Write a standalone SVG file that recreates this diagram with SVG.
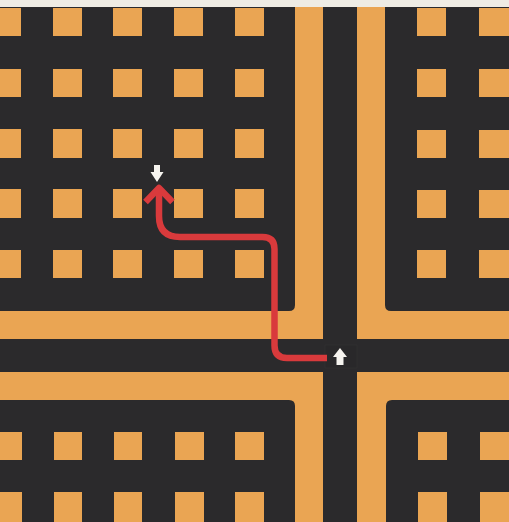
<svg xmlns="http://www.w3.org/2000/svg" width="509" height="522" viewBox="0 0 509 522">
  <defs>
    <style>
      .dark { fill: #2b2a2c; }
      .sq { fill: #eaa553; }
      .route { fill: none; stroke: #d93a3c; stroke-width: 6.5; stroke-linejoin: round; }
      .tag { fill: #f6f4ef; }
    </style>
  </defs>
  <rect x="0" y="0" width="509" height="522" fill="#eaa553"/>
  <rect x="0" y="0" width="509" height="7" fill="#efece4"/>

  <g id="blocks">
    <path class="dark" d="M0 7 H295 V305 Q295 311 289 311 H0 Z"/>
    <path class="dark" d="M509 7 H385 V305 Q385 311 391 311 H509 Z"/>
    <path class="dark" d="M0 522 H295 V406 Q295 400 289 400 H0 Z"/>
    <path class="dark" d="M509 522 H386 V406 Q386 400 392 400 H509 Z"/>
    <rect class="dark" x="323" y="7" width="34" height="515"/>
    <rect class="dark" x="0" y="339" width="509" height="33"/>
  </g>

  <g id="squares-top-left">
    <rect class="sq" x="-8" y="8" width="29" height="28"/><rect class="sq" x="53" y="8" width="29" height="28"/><rect class="sq" x="113" y="8" width="29" height="28"/><rect class="sq" x="174" y="8" width="29" height="28"/><rect class="sq" x="235" y="8" width="29" height="28"/>
    <rect class="sq" x="-8" y="69" width="29" height="28"/><rect class="sq" x="53" y="69" width="29" height="28"/><rect class="sq" x="113" y="69" width="29" height="28"/><rect class="sq" x="174" y="69" width="29" height="28"/><rect class="sq" x="235" y="69" width="29" height="28"/>
    <rect class="sq" x="-8" y="129" width="29" height="29"/><rect class="sq" x="53" y="129" width="29" height="29"/><rect class="sq" x="113" y="129" width="29" height="29"/><rect class="sq" x="174" y="129" width="29" height="29"/><rect class="sq" x="235" y="129" width="29" height="29"/>
    <rect class="sq" x="-8" y="189" width="29" height="29"/><rect class="sq" x="53" y="189" width="29" height="29"/><rect class="sq" x="113" y="189" width="29" height="29"/><rect class="sq" x="174" y="189" width="29" height="29"/><rect class="sq" x="235" y="189" width="29" height="29"/>
    <rect class="sq" x="-8" y="250" width="29" height="28"/><rect class="sq" x="53" y="250" width="29" height="28"/><rect class="sq" x="113" y="250" width="29" height="28"/><rect class="sq" x="174" y="250" width="29" height="28"/><rect class="sq" x="235" y="250" width="29" height="28"/>
  </g>
  <g id="squares-top-right">
    <rect class="sq" x="417" y="8" width="29" height="28"/><rect class="sq" x="479" y="8" width="30" height="28"/>
    <rect class="sq" x="417" y="69" width="29" height="28"/><rect class="sq" x="479" y="69" width="30" height="28"/>
    <rect class="sq" x="417" y="130" width="29" height="28"/><rect class="sq" x="479" y="130" width="30" height="28"/>
    <rect class="sq" x="417" y="190" width="29" height="28"/><rect class="sq" x="479" y="190" width="30" height="28"/>
    <rect class="sq" x="417" y="250" width="29" height="28"/><rect class="sq" x="479" y="250" width="30" height="28"/>
  </g>
  <g id="squares-bottom-left">
    <rect class="sq" x="-7" y="432" width="29" height="28"/><rect class="sq" x="54" y="432" width="28" height="28"/><rect class="sq" x="114" y="432" width="28" height="28"/><rect class="sq" x="175" y="432" width="29" height="28"/><rect class="sq" x="235" y="432" width="29" height="28"/>
    <rect class="sq" x="-7" y="492" width="29" height="30"/><rect class="sq" x="54" y="492" width="28" height="30"/><rect class="sq" x="114" y="492" width="28" height="30"/><rect class="sq" x="175" y="492" width="29" height="30"/><rect class="sq" x="235" y="492" width="29" height="30"/>
  </g>
  <g id="squares-bottom-right">
    <rect class="sq" x="418" y="432" width="29" height="28"/><rect class="sq" x="480" y="432" width="29" height="28"/>
    <rect class="sq" x="418" y="492" width="29" height="30"/><rect class="sq" x="480" y="492" width="29" height="30"/>
  </g>

  <g id="start">
    <rect x="325" y="345" width="32" height="23" fill="#29282a" stroke="#343335" stroke-width="0.6"/>
    <polygon class="tag" points="340,348 347,357 343.5,357 343.5,365 336.5,365 336.5,357 333,357"/>
  </g>
  <g id="goal">
    <polygon class="tag" points="154,165 160,165 160,172 163.5,172 157,182 150.5,172 154,172"/>
  </g>

  <g id="connectors">
    <path class="route" d="M327 358 H287 Q274.5 358 274.5 345.5 V249 Q274.5 237 262.5 237 H180 Q159 237 159 216 V190"/>
    <polyline class="route" points="145.5,202 159,188 172.5,202" stroke-linejoin="miter" stroke-linecap="butt"/>
  </g>
</svg>
